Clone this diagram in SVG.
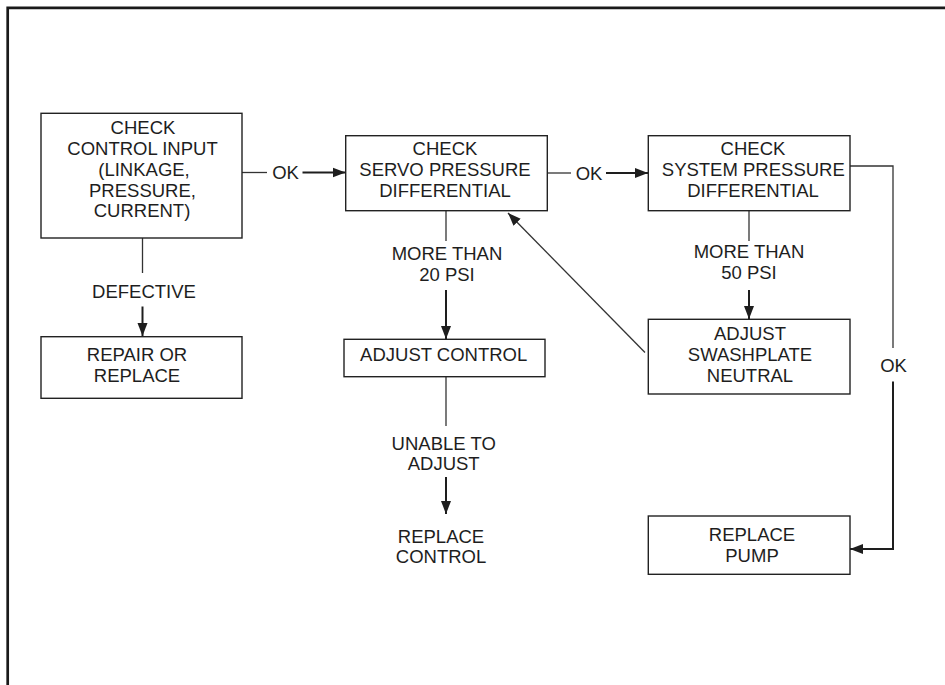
<svg xmlns="http://www.w3.org/2000/svg" width="945" height="685" viewBox="0 0 945 685">
  <style>
    .box { fill: #ffffff; stroke: #222222; stroke-width: 1.4; }
    .lbl { font-family: "Liberation Sans", Arial, sans-serif; font-size: 18.5px; fill: #1e1e1e; text-anchor: middle; }
    .wire { fill: none; stroke: #333333; stroke-width: 1.3; }
    .flow { fill: none; stroke: #1e1e1e; stroke-width: 2; }
    .frame { fill: none; stroke: #1a1a1a; stroke-width: 2.7; }
  </style>
  <defs>
    <marker id="head" markerUnits="userSpaceOnUse" markerWidth="14" markerHeight="12" refX="13" refY="6" orient="auto">
      <path d="M0,1 L13,6 L0,11 Z" fill="#1e1e1e"/>
    </marker>
  </defs>

  <rect width="945" height="685" fill="#ffffff"/>
  <!-- outer frame, open to the right and bottom -->
  <path class="frame" d="M7.7,690 V7.9 H950"/>

  <!-- connectors -->
  <g id="connectors">
    <!-- control input -> defective -> repair -->
    <line class="wire" x1="142.5" y1="238" x2="142.5" y2="273"/>
    <line class="flow" x1="142.5" y1="306.5" x2="142.5" y2="336" marker-end="url(#head)"/>
    <!-- control input OK -> servo -->
    <line class="wire" x1="242" y1="172.5" x2="267" y2="172.5"/>
    <line class="flow" x1="302.5" y1="172.5" x2="345.5" y2="172.5" marker-end="url(#head)"/>
    <!-- servo OK -> system -->
    <line class="wire" x1="547" y1="173" x2="571" y2="173"/>
    <line class="flow" x1="606" y1="173" x2="648" y2="173" marker-end="url(#head)"/>
    <!-- servo more than 20 psi -> adjust control -->
    <line class="wire" x1="446" y1="211" x2="446" y2="241"/>
    <line class="flow" x1="446" y1="290" x2="446" y2="339" marker-end="url(#head)"/>
    <!-- adjust control unable -> replace control -->
    <line class="wire" x1="446" y1="377" x2="446" y2="426"/>
    <line class="flow" x1="446" y1="477" x2="446" y2="514" marker-end="url(#head)"/>
    <!-- system more than 50 psi -> swashplate -->
    <line class="wire" x1="749" y1="211" x2="749" y2="241"/>
    <line class="flow" x1="749" y1="290" x2="749" y2="319" marker-end="url(#head)"/>
    <!-- swashplate -> back to servo -->
    <line class="wire" x1="645" y1="352.5" x2="508" y2="213" marker-end="url(#head)"/>
    <!-- system OK -> replace pump -->
    <polyline class="wire" points="850,166 893,166 893,348"/>
    <polyline class="flow" points="893,381.5 893,549 850,549" marker-end="url(#head)"/>
  </g>

  <!-- connector labels -->
  <g id="edge-labels">
    <text class="lbl" x="144" y="298">DEFECTIVE</text>
    <text class="lbl" x="285.5" y="179">OK</text>
    <text class="lbl" x="589" y="179.5">OK</text>
    <text class="lbl" x="447" y="259.5">MORE THAN</text>
    <text class="lbl" x="447" y="280.5">20 PSI</text>
    <text class="lbl" x="749" y="258">MORE THAN</text>
    <text class="lbl" x="749" y="278.5">50 PSI</text>
    <text class="lbl" x="443.7" y="449.5">UNABLE TO</text>
    <text class="lbl" x="443.7" y="470">ADJUST</text>
    <text class="lbl" x="893.5" y="372">OK</text>
  </g>

  <g id="check-control-input">
    <rect class="box" x="41" y="113.3" width="201" height="124.7"/>
    <text class="lbl" x="143" y="134.3">CHECK</text>
    <text class="lbl" x="142.5" y="155">CONTROL INPUT</text>
    <text class="lbl" x="144" y="176">(LINKAGE,</text>
    <text class="lbl" x="142.5" y="196.7">PRESSURE,</text>
    <text class="lbl" x="142" y="217.3">CURRENT)</text>
  </g>

  <g id="repair-or-replace">
    <rect class="box" x="41" y="336.7" width="201" height="61.6"/>
    <text class="lbl" x="137" y="361">REPAIR OR</text>
    <text class="lbl" x="137" y="381.7">REPLACE</text>
  </g>

  <g id="check-servo">
    <rect class="box" x="345.7" y="135.7" width="201.6" height="75"/>
    <text class="lbl" x="445" y="155">CHECK</text>
    <text class="lbl" x="445" y="176">SERVO PRESSURE</text>
    <text class="lbl" x="445" y="197.3">DIFFERENTIAL</text>
  </g>

  <g id="check-system">
    <rect class="box" x="648.3" y="135.7" width="201.7" height="75"/>
    <text class="lbl" x="753" y="155">CHECK</text>
    <text class="lbl" x="753.3" y="176">SYSTEM PRESSURE</text>
    <text class="lbl" x="753" y="197.3">DIFFERENTIAL</text>
  </g>

  <g id="adjust-control">
    <rect class="box" x="344" y="339.3" width="201" height="37.4"/>
    <text class="lbl" x="443.7" y="360.7">ADJUST CONTROL</text>
  </g>

  <g id="adjust-swashplate">
    <rect class="box" x="648.3" y="319.3" width="201.7" height="74.7"/>
    <text class="lbl" x="750" y="340">ADJUST</text>
    <text class="lbl" x="750" y="360.7">SWASHPLATE</text>
    <text class="lbl" x="750" y="381.7">NEUTRAL</text>
  </g>

  <g id="replace-control">
    <text class="lbl" x="441" y="542.7">REPLACE</text>
    <text class="lbl" x="441" y="563.3">CONTROL</text>
  </g>

  <g id="replace-pump">
    <rect class="box" x="648.3" y="516" width="201.7" height="58.3"/>
    <text class="lbl" x="752" y="541">REPLACE</text>
    <text class="lbl" x="752" y="561.7">PUMP</text>
  </g>
</svg>
